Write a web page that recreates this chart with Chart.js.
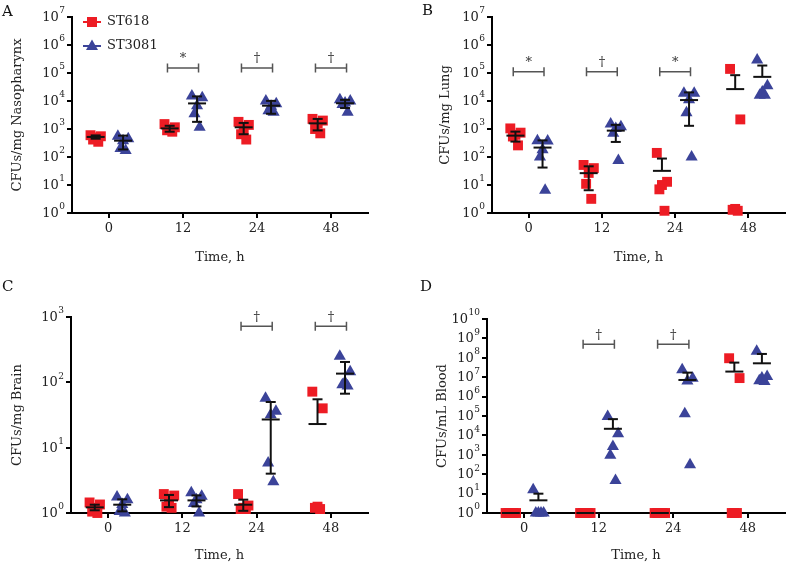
<!DOCTYPE html>
<html><head><meta charset="utf-8">
<script src="https://cdn.jsdelivr.net/npm/chart.js@4"></script>
<style>
html,body{margin:0;padding:0;background:#fff;}
#wrap{position:relative;width:792px;height:564px;overflow:hidden;}
canvas{position:absolute;}
</style></head><body>
<div id="wrap">
<canvas id="cA" width="396" height="270" style="left:0;top:0"></canvas>
<canvas id="cB" width="396" height="270" style="left:396px;top:0"></canvas>
<canvas id="cC" width="396" height="294" style="left:0;top:270px"></canvas>
<canvas id="cD" width="396" height="294" style="left:396px;top:270px"></canvas>
</div>
<script>
// ---------- data ----------
const timeLabels = ['0', '12', '24', '48'];
const seriesNames = ['ST618', 'ST3081'];

// A: CFUs/mg Nasopharynx
const aRed  = [[600,550,500,420,350],[1500,1150,1000,900,800],[1800,1400,1000,650,420],[2300,2000,1600,1000,700]];
const aBlue = [[550,450,380,200,170],[15000,13000,6800,3500,1150],[10000,8000,6500,4500,4000],[11000,10000,8500,7500,4000]];
const aRedMean = [520, 1050, 1150, 1590];
const aRedErr  = [70, 250, 500, 700];
const aBlueMean = [383, 8200, 6800, 8300];
const aBlueErr  = [197, 6400, 3300, 2700];
const aBracket = [null, 1.5e5, 1.5e5, 1.5e5];
const aSymbol  = [null, '*', '†', '†'];

// B: CFUs/mg Lung
const bRed  = [[1050,740,620,540,260],[52,40,27,11,3.2],[140,13,10,7,1.2],[140000,2200,1.4,1.3,1.2]];
const bBlue = [[380,370,180,100,6.5],[1500,1200,1050,700,75],[19000,19000,11000,3800,100],[290000,35000,21000,16000,16000]];
const bRedMean = [580, 26.5, 32, 26600];
const bRedErr  = [225, 20, 56, 57000];
const bBlueMean = [217, 875, 10800, 72800];
const bBlueErr  = [175, 530, 9500, 112000];
const bBracket = [1.1e5, 1.1e5, 1.1e5, null];
const bSymbol  = ['*', '†', '*', null];

// C: CFUs/mg Brain
const cRed  = [[1.45,1.35,1.2,1.05,1.0],[1.95,1.85,1.6,1.25,1.2],[1.95,1.3,1.2,1.15,1.15],[72,40,1.25,1.2,1.15]];
const cBlue = [[1.75,1.6,1.35,1.05,1.0],[2.05,1.8,1.6,1.4,1.0],[57,36,32,5.8,3.0],[250,145,100,92,88]];
const cRedMean = [1.22, 1.56, 1.34, 23];
const cRedErr  = [0.12, 0.33, 0.26, 32];
const cBlueMean = [1.34, 1.56, 27, 136];
const cBlueErr  = [0.28, 0.30, 23, 69];
const cBracket = [null, null, 720, 720];
const cSymbol  = [null, null, '†', '†'];

// D: CFUs/mL Blood
const dRed  = [[1,1,1,1,1],[1,1,1,1,1],[1,1,1,1,1],[95000000,9000000,1,1,1]];
const dBlue = [[16,1,1,1,1],[95000,12000,2700,950,48],[24000000,8900000,6400000,130000,310],[220000000,11000000,9000000,6500000,6000000]];
const dRedMean = [1, 1, 1, 1.95e7];
const dRedErr  = [0, 0, 0, 3.7e7];
const dBlueMean = [4.5, 21900, 7.2e6, 5.2e7];
const dBlueErr  = [5.4, 47000, 1.0e7, 1.06e8];
const dBracket = [null, 5e8, 5e8, null];
const dSymbol  = [null, '†', '†', null];

// ---------- style ----------
const RED = '#ED1C24', BLUE = '#3B4399';
const FONT = 'DejaVu Serif';
const OFF_RED = -0.18, OFF_BLUE = 0.19;
const JIT = [-0.07, 0.07, 0, -0.035, 0.035];

function toPoints(groups, off){
  const pts = [];
  groups.forEach((vals, i) => vals.forEach((v, j) => pts.push({x: i + off + JIT[j % JIT.length], y: v})));
  return pts;
}

const panels = [
  {id:'cA', W:396, H:270, area:{left:72,right:368,top:17,bottom:213}, yMaxExp:7, yTitle:'CFUs/mg Nasopharynx', yTitlePad:10, xTitlePad:5, letter:'A', letterPos:[2,12], legend:true,
   red:aRed, blue:aBlue, redMean:aRedMean, redErr:aRedErr, blueMean:aBlueMean, blueErr:aBlueErr, br:aBracket, sym:aSymbol},
  {id:'cB', W:396, H:270, area:{left:96,right:392,top:17,bottom:213}, yMaxExp:7, yTitle:'CFUs/mg Lung', yTitlePad:42, xTitlePad:5, letter:'B', letterPos:[26,11], legend:false,
   red:bRed, blue:bBlue, redMean:bRedMean, redErr:bRedErr, blueMean:bBlueMean, blueErr:bBlueErr, br:bBracket, sym:bSymbol},
  {id:'cC', W:396, H:294, area:{left:71,right:368,top:47,bottom:243}, yMaxExp:3, yTitle:'CFUs/mg Brain', yTitlePad:10, xTitlePad:1, letter:'C', letterPos:[2,17], legend:false,
   red:cRed, blue:cBlue, redMean:cRedMean, redErr:cRedErr, blueMean:cBlueMean, blueErr:cBlueErr, br:cBracket, sym:cSymbol},
  {id:'cD', W:396, H:294, area:{left:91,right:391,top:49,bottom:243}, yMaxExp:10, yTitle:'CFUs/mL Blood', yTitlePad:39, xTitlePad:1, letter:'D', letterPos:[24,17], legend:false,
   red:dRed, blue:dBlue, redMean:dRedMean, redErr:dRedErr, blueMean:dBlueMean, blueErr:dBlueErr, br:dBracket, sym:dSymbol},
];

const overlay = {
  id: 'overlay',
  afterDatasetsDraw(chart, args, o) {
    const p = o.panel; const ctx = chart.ctx;
    const xs = chart.scales.x, ys = chart.scales.y;
    ctx.save();
    // mean + error bars
    const groups = [[p.redMean, p.redErr, OFF_RED], [p.blueMean, p.blueErr, OFF_BLUE]];
    ctx.strokeStyle = '#111'; ctx.lineWidth = 2; ctx.lineCap = 'butt';
    groups.forEach(([means, errs, off]) => {
      means.forEach((m, i) => {
        const xc = xs.getPixelForValue(i + off);
        const ym = ys.getPixelForValue(m);
        ctx.beginPath(); ctx.moveTo(xc - 9, ym); ctx.lineTo(xc + 9, ym); ctx.stroke();
        const e = errs[i];
        if (e > 0) {
          const yu = ys.getPixelForValue(m + e);
          const hasLow = m - e > 0;
          const yl = hasLow ? ys.getPixelForValue(m - e) : ym;
          ctx.beginPath(); ctx.moveTo(xc, yu); ctx.lineTo(xc, yl); ctx.stroke();
          ctx.beginPath(); ctx.moveTo(xc - 5, yu); ctx.lineTo(xc + 5, yu); ctx.stroke();
          if (hasLow) { ctx.beginPath(); ctx.moveTo(xc - 5, yl); ctx.lineTo(xc + 5, yl); ctx.stroke(); }
        }
      });
    });
    // significance brackets
    ctx.strokeStyle = '#555'; ctx.lineWidth = 1.5; ctx.fillStyle = '#333';
    ctx.font = '13px "' + FONT + '"'; ctx.textAlign = 'center'; ctx.textBaseline = 'middle';
    p.br.forEach((v, i) => {
      if (v == null) return;
      const x1 = xs.getPixelForValue(i - 0.21), x2 = xs.getPixelForValue(i + 0.21);
      const y = ys.getPixelForValue(v);
      ctx.beginPath();
      ctx.moveTo(x1, y); ctx.lineTo(x2, y);
      ctx.moveTo(x1, y - 4.5); ctx.lineTo(x1, y + 4.5);
      ctx.moveTo(x2, y - 4.5); ctx.lineTo(x2, y + 4.5);
      ctx.stroke();
      ctx.fillText(p.sym[i], (x1 + x2) / 2, y - 9);
    });
    ctx.restore();
  },
  afterDraw(chart, args, o) {
    const p = o.panel; const ctx = chart.ctx;
    const ys = chart.scales.y;
    ctx.save();
    // y tick labels as 10 with a raised exponent
    ctx.fillStyle = '#222'; ctx.textBaseline = 'middle';
    ys.ticks.forEach(t => {
      const e = String(Math.round(Math.log10(t.value)));
      const y = ys.getPixelForValue(t.value);
      const xr = ys.right - 7;
      ctx.font = '9px "' + FONT + '"';
      const ew = ctx.measureText(e).width;
      ctx.textAlign = 'left';
      ctx.fillText(e, xr - ew, y - 6);
      ctx.font = '13px "' + FONT + '"';
      ctx.textAlign = 'right';
      ctx.fillText('10', xr - ew - 0.5, y + 0.5);
    });
    // panel letter
    ctx.fillStyle = '#111'; ctx.textAlign = 'left';
    ctx.font = '15px "' + FONT + '"';
    ctx.fillText(p.letter, p.letterPos[0], p.letterPos[1]);
    // legend
    if (p.legend) {
      const items = [[RED, 'rect', 22], [BLUE, 'triangle', 46]];
      items.forEach(([col, shape, y], k) => {
        ctx.strokeStyle = col; ctx.fillStyle = col; ctx.lineWidth = 2;
        ctx.beginPath(); ctx.moveTo(83, y); ctx.lineTo(101, y); ctx.stroke();
        ctx.beginPath();
        if (shape === 'rect') { ctx.rect(87, y - 5, 10, 10); }
        else { ctx.moveTo(92, y - 6.5); ctx.lineTo(98, y + 4); ctx.lineTo(86, y + 4); ctx.closePath(); }
        ctx.fill();
        ctx.fillStyle = '#222'; ctx.font = '13px "' + FONT + '"';
        ctx.fillText(chart.data.datasets[k].label, 107, y);
      });
    }
    ctx.restore();
  }
};

panels.forEach(p => {
  const font = {family: FONT, size: 13};
  new Chart(document.getElementById(p.id), {
    type: 'scatter',
    data: {
      datasets: [
        {label: seriesNames[0], data: toPoints(p.red, OFF_RED), pointStyle: 'rect', pointRadius: 7, pointHoverRadius: 7,
         backgroundColor: RED, borderColor: RED, borderWidth: 0, clip: false},
        {label: seriesNames[1], data: toPoints(p.blue, OFF_BLUE), pointStyle: 'triangle', pointRadius: 7, pointHoverRadius: 7,
         backgroundColor: BLUE, borderColor: BLUE, borderWidth: 0, clip: false}
      ]
    },
    options: {
      responsive: false, animation: false, devicePixelRatio: 1,
      layout: {padding: {top: p.area.top, right: p.W - p.area.right, left: 0, bottom: 0}},
      plugins: {legend: {display: false}, tooltip: {enabled: false}, overlay: {panel: p}},
      scales: {
        x: {
          type: 'linear', min: -0.5, max: 3.5,
          afterBuildTicks: s => { s.ticks = timeLabels.map((_, i) => ({value: i})); },
          afterFit: s => { s.height = p.H - p.area.bottom; },
          ticks: {callback: v => timeLabels[v] ?? '', font, color: '#222', padding: 3, autoSkip: false, maxRotation: 0},
          grid: {display: true, drawOnChartArea: false, drawTicks: true, tickLength: 5, color: '#000', lineWidth: 2},
          border: {display: true, color: '#000', width: 2},
          title: {display: true, text: 'Time, h', font, color: '#222', padding: {top: 0, bottom: p.xTitlePad}}
        },
        y: {
          type: 'logarithmic', min: 1, max: Math.pow(10, p.yMaxExp),
          afterBuildTicks: s => { const t = []; for (let e = 0; e <= p.yMaxExp; e++) t.push({value: Math.pow(10, e)}); s.ticks = t; },
          afterFit: s => { s.width = p.area.left; },
          ticks: {display: false},
          grid: {display: true, drawOnChartArea: false, drawTicks: true, tickLength: 5, color: '#000', lineWidth: 2},
          border: {display: true, color: '#000', width: 2},
          title: {display: true, text: p.yTitle, font, color: '#222', padding: {top: p.yTitlePad, bottom: 0}}
        }
      }
    },
    plugins: [overlay]
  });
});
</script>
</body></html>
